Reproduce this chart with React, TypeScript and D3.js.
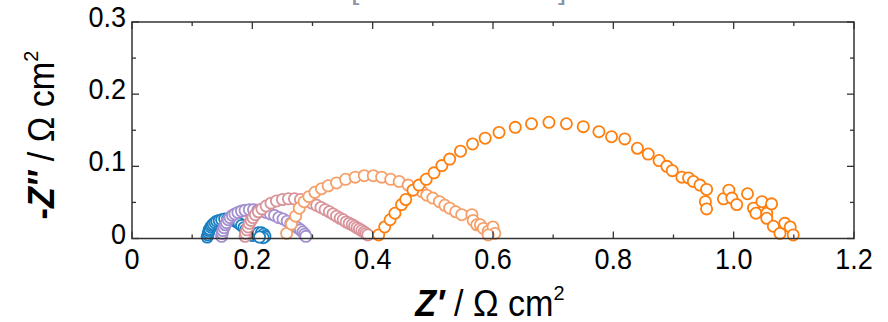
import React from "react";
import * as d3 from "d3";

const W = 888;
const H = 322;

const xTicksMajor = [0, 0.2, 0.4, 0.6, 0.8, 1.0, 1.2];
const xTickLabels = ["0", "0.2", "0.4", "0.6", "0.8", "1.0", "1.2"];
const xTicksMinor = [0.1, 0.3, 0.5, 0.7, 0.9, 1.1];
const yTicksMajor = [0, 0.1, 0.2, 0.3];
const yTickLabels = ["0", "0.1", "0.2", "0.3"];
const yTicksMinor = [0.05, 0.15, 0.25];

const seriesNames = ["blue", "purple", "pink", "lightOrange", "orange"];
const seriesColors = ["#1a7fc1", "#a48fcf", "#d8939a", "#f5a06a", "#ff7f0e"];

const blueX = [0.125, 0.126, 0.127, 0.128, 0.129, 0.131, 0.133, 0.135, 0.138, 0.141, 0.145, 0.149, 0.154, 0.159, 0.164, 0.169, 0.174, 0.178, 0.182, 0.186, 0.189, 0.192, 0.195, 0.198, 0.201, 0.205, 0.210, 0.215, 0.219, 0.221, 0.218, 0.212];
const blueY = [0.002, 0.005, 0.008, 0.011, 0.013, 0.016, 0.018, 0.020, 0.022, 0.024, 0.025, 0.026, 0.027, 0.027, 0.026, 0.025, 0.023, 0.021, 0.018, 0.015, 0.012, 0.009, 0.007, 0.005, 0.004, 0.006, 0.008, 0.008, 0.006, 0.003, 0.001, 0.002];

const purpleX = [0.149, 0.150, 0.151, 0.153, 0.155, 0.157, 0.160, 0.163, 0.167, 0.171, 0.176, 0.182, 0.188, 0.195, 0.202, 0.209, 0.216, 0.223, 0.230, 0.237, 0.244, 0.251, 0.258, 0.264, 0.270, 0.275, 0.280, 0.284, 0.287, 0.289];
const purpleY = [0.003, 0.007, 0.011, 0.015, 0.019, 0.022, 0.026, 0.029, 0.032, 0.034, 0.036, 0.038, 0.039, 0.040, 0.040, 0.039, 0.038, 0.036, 0.034, 0.032, 0.029, 0.027, 0.024, 0.021, 0.018, 0.015, 0.012, 0.009, 0.006, 0.003];

const pinkX = [0.188, 0.189, 0.191, 0.193, 0.195, 0.198, 0.201, 0.205, 0.210, 0.216, 0.223, 0.231, 0.240, 0.250, 0.260, 0.270, 0.280, 0.290, 0.299, 0.307, 0.314, 0.321, 0.328, 0.334, 0.340, 0.346, 0.351, 0.356, 0.361, 0.366, 0.370, 0.374, 0.378, 0.382, 0.386, 0.389, 0.392];
const pinkY = [0.003, 0.007, 0.012, 0.016, 0.021, 0.025, 0.029, 0.033, 0.037, 0.041, 0.045, 0.049, 0.052, 0.054, 0.055, 0.055, 0.054, 0.052, 0.049, 0.046, 0.043, 0.040, 0.037, 0.034, 0.031, 0.028, 0.026, 0.023, 0.021, 0.019, 0.017, 0.015, 0.013, 0.011, 0.009, 0.007, 0.005];

const lightOrangeX = [0.257, 0.265, 0.272, 0.278, 0.286, 0.294, 0.304, 0.315, 0.326, 0.340, 0.355, 0.371, 0.386, 0.401, 0.415, 0.430, 0.444, 0.459, 0.473, 0.482, 0.490, 0.500, 0.511, 0.520, 0.528, 0.538, 0.548, 0.565, 0.567, 0.573, 0.579, 0.584, 0.592, 0.600, 0.603, 0.592];
const lightOrangeY = [0.007, 0.020, 0.031, 0.042, 0.051, 0.058, 0.064, 0.069, 0.073, 0.077, 0.082, 0.085, 0.087, 0.087, 0.085, 0.082, 0.079, 0.074, 0.070, 0.065, 0.060, 0.056, 0.051, 0.046, 0.042, 0.037, 0.033, 0.033, 0.025, 0.019, 0.019, 0.014, 0.010, 0.016, 0.007, 0.005];

const orangeX = [0.410, 0.420, 0.429, 0.437, 0.448, 0.455, 0.467, 0.477, 0.489, 0.502, 0.515, 0.528, 0.546, 0.566, 0.587, 0.610, 0.637, 0.664, 0.693, 0.722, 0.750, 0.776, 0.797, 0.819, 0.840, 0.858, 0.876, 0.889, 0.898, 0.914, 0.925, 0.933, 0.944, 0.955, 0.953, 0.955, 0.983, 0.992, 0.997, 1.005, 1.023, 1.033, 1.037, 1.047, 1.055, 1.055, 1.063, 1.066, 1.077, 1.085, 1.094, 1.099];
const orangeY = [0.005, 0.016, 0.026, 0.035, 0.047, 0.054, 0.067, 0.074, 0.082, 0.091, 0.101, 0.110, 0.121, 0.131, 0.139, 0.147, 0.154, 0.159, 0.161, 0.159, 0.155, 0.148, 0.141, 0.138, 0.125, 0.117, 0.108, 0.100, 0.094, 0.085, 0.084, 0.079, 0.074, 0.068, 0.051, 0.041, 0.055, 0.067, 0.056, 0.047, 0.062, 0.042, 0.035, 0.051, 0.035, 0.028, 0.048, 0.017, 0.007, 0.021, 0.016, 0.005];

const seriesXs = [blueX, purpleX, pinkX, lightOrangeX, orangeX];
const seriesYs = [blueY, purpleY, pinkY, lightOrangeY, orangeY];

const FONT = "'Liberation Sans', Arial, Helvetica, sans-serif";

export default function App() {
  const x = d3.scaleLinear().domain([0, 1.2]).range([132, 854]);
  const y = d3.scaleLinear().domain([0, 0.3]).range([238.5, 22]);
  const [x0, x1] = x.range();
  const [y0, y1] = y.range();
  const frame = "#333333";
  const majLen = 7;
  const minLen = 4;
  const sx = 0.9;

  return (
    <svg width={W} height={H} style={{ position: "absolute", left: 0, top: 0, background: "#fff" }}>
      {/* cut-off title brackets */}
      <text x={351} y={-1} fontFamily={FONT} fontSize={30} fill="#8a94a6">[</text>
      <text x={558} y={-1} fontFamily={FONT} fontSize={30} fill="#8a94a6">]</text>

      {/* data */}
      {seriesNames.map((name, si) => (
        <g key={name}>
          {seriesXs[si].map((vx, i) => (
            <circle key={i} cx={x(vx)} cy={y(seriesYs[si][i])} r={5.6} fill="#fff" stroke={seriesColors[si]} strokeWidth={1.8} />
          ))}
        </g>
      ))}

      {/* frame */}
      <rect x={x0} y={y1} width={x1 - x0} height={y0 - y1} fill="none" stroke={frame} strokeWidth={1.5} />

      {/* x ticks */}
      {xTicksMajor.map((t) => (
        <g key={"xm" + t}>
          <line x1={x(t)} x2={x(t)} y1={y0} y2={y0 - majLen} stroke={frame} strokeWidth={1.3} />
          <line x1={x(t)} x2={x(t)} y1={y1} y2={y1 + majLen} stroke={frame} strokeWidth={1.3} />
        </g>
      ))}
      {xTicksMinor.map((t) => (
        <g key={"xn" + t}>
          <line x1={x(t)} x2={x(t)} y1={y0} y2={y0 - minLen} stroke={frame} strokeWidth={1.3} />
          <line x1={x(t)} x2={x(t)} y1={y1} y2={y1 + minLen} stroke={frame} strokeWidth={1.3} />
        </g>
      ))}
      {yTicksMajor.map((t) => (
        <g key={"ym" + t}>
          <line x1={x0} x2={x0 + majLen} y1={y(t)} y2={y(t)} stroke={frame} strokeWidth={1.3} />
          <line x1={x1} x2={x1 - majLen} y1={y(t)} y2={y(t)} stroke={frame} strokeWidth={1.3} />
        </g>
      ))}
      {yTicksMinor.map((t) => (
        <g key={"yn" + t}>
          <line x1={x0} x2={x0 + minLen} y1={y(t)} y2={y(t)} stroke={frame} strokeWidth={1.3} />
          <line x1={x1} x2={x1 - minLen} y1={y(t)} y2={y(t)} stroke={frame} strokeWidth={1.3} />
        </g>
      ))}

      {/* tick labels */}
      {xTicksMajor.map((t, i) => (
        <text key={"xl" + t} transform={`translate(${x(t)},269) scale(${sx},1)`} textAnchor="middle" fontFamily={FONT} fontSize={30} fill="#000">{xTickLabels[i]}</text>
      ))}
      {yTicksMajor.map((t, i) => (
        <text key={"yl" + t} transform={`translate(126,${y(t) + 5}) scale(${sx},1)`} textAnchor="end" fontFamily={FONT} fontSize={30} fill="#000">{yTickLabels[i]}</text>
      ))}

      {/* axis titles */}
      <text transform="translate(490,316) scale(0.95,1)" textAnchor="middle" fontFamily={FONT} fontSize={36} fill="#000">
        <tspan fontStyle="italic" fontWeight="bold">Z′</tspan>
        <tspan> / Ω cm</tspan>
        <tspan fontSize={21} dy={-16}>2</tspan>
      </text>
      <text transform="translate(54,135) rotate(-90) scale(0.95,1)" textAnchor="middle" fontFamily={FONT} fontSize={36} fill="#000">
        <tspan fontWeight="bold">-</tspan>
        <tspan fontStyle="italic" fontWeight="bold">Z″</tspan>
        <tspan> / Ω cm</tspan>
        <tspan fontSize={21} dy={-16}>2</tspan>
      </text>
    </svg>
  );
}
